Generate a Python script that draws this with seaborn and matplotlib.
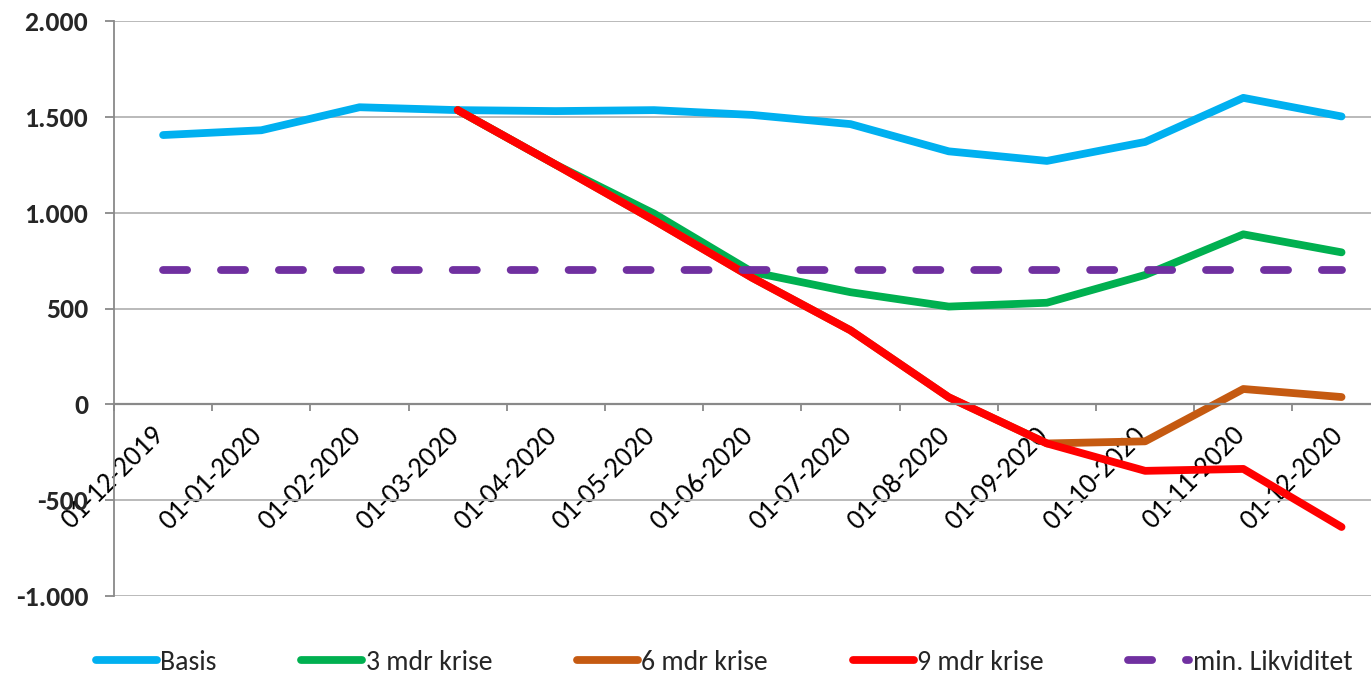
import seaborn as sns
import matplotlib.pyplot as plt
import matplotlib.transforms as mtransforms
import pandas as pd
import numpy as np
from matplotlib.ticker import FuncFormatter, FixedLocator

# data
dates = ["01-12-2019", "01-01-2020", "01-02-2020", "01-03-2020", "01-04-2020",
         "01-05-2020", "01-06-2020", "01-07-2020", "01-08-2020", "01-09-2020",
         "01-10-2020", "01-11-2020", "01-12-2020"]
basis = [1405, 1430, 1550, 1535, 1530, 1535, 1510, 1462, 1320, 1270, 1369, 1599, 1502]
krise_3 = [None, None, None, 1535, 1250, 995, 690, 585, 510, 530, 675, 887, 793]
krise_6 = [None, None, None, 1535, 1250, 960, 660, 386, 37, -204, -193, 80, 38]
krise_9 = [None, None, None, 1535, 1250, 960, 660, 386, 37, -204, -347, -337, -640]
min_likv = [700] * 13

names = ["Basis", "3 mdr krise", "6 mdr krise", "9 mdr krise", "min. Likviditet"]
colors = ["#00B0F0", "#00B050", "#C55A11", "#FF0000", "#7030A0"]

sns.set_theme(style="white")
plt.rcParams['font.family'] = ['Carlito', 'Lato', 'DejaVu Sans']

df = pd.DataFrame({"pos": np.arange(len(dates)), "Basis": basis, "3 mdr krise": krise_3,
                   "6 mdr krise": krise_6, "9 mdr krise": krise_9, "min. Likviditet": min_likv})

fig = plt.figure(figsize=(13.71, 6.73), dpi=100)
ax = fig.add_axes([114/1371, 1 - 596/673, 1 - 114/1371, (596 - 21)/673])

lw = 5.6
for name, col in zip(names, colors):
    d = df[["pos", name]].dropna()
    if name == "min. Likviditet":
        sns.lineplot(data=d, x="pos", y=name, color=col, lw=lw, ax=ax, label=name,
                     dashes=False, dash_capstyle="round")
        ax.lines[-1].set_dashes((3.1, 4.35))
    else:
        sns.lineplot(data=d, x="pos", y=name, color=col, lw=lw, ax=ax, label=name,
                     solid_capstyle="round")

ax.set_xlim(-0.5, 12.3)
ax.set_ylim(-1000, 2000)
ax.set_yticks(np.arange(-1000, 2001, 500))
ax.yaxis.set_major_formatter(FuncFormatter(lambda v, p: f"{v:,.0f}".replace(",", ".")))
ax.grid(axis="y", color="#b4b4b4", lw=1.3)
ax.grid(axis="x", visible=False)
ax.set_axisbelow(True)

for s in ["top", "right"]:
    ax.spines[s].set_visible(False)
ax.spines["left"].set_color("#898989")
ax.spines["left"].set_linewidth(1.3)
ax.spines["bottom"].set_position(("data", 0))
ax.spines["bottom"].set_color("#898989")
ax.spines["bottom"].set_linewidth(1.6)

ax.set_xticks(np.arange(len(dates)))
ax.set_xticklabels(dates, rotation=45, ha="right", va="top")
ax.xaxis.set_minor_locator(FixedLocator(np.arange(-0.5, 12.6, 1)))
ax.tick_params(axis="x", which="major", length=0, pad=13, labelsize=20.5, labelcolor="black")
ax.tick_params(axis="x", which="minor", length=5, width=1.3, color="#898989", direction="out", bottom=True)
ax.tick_params(axis="y", length=6.5, width=1.3, color="#898989", direction="out", left=True,
               pad=12, labelsize=20)
shift = mtransforms.ScaledTranslation(6/100, 0, fig.dpi_scale_trans)
for t in ax.get_xticklabels():
    t.set_transform(t.get_transform() + shift)
for t in ax.get_yticklabels():
    t.set_fontweight("heavy")
ax.set_xlabel("")
ax.set_ylabel("")

ax.get_legend().remove()
handles = ax.get_lines()[:5]
fig.legend(handles, names, loc="center", bbox_to_anchor=(0.528, 1 - 662/673), ncol=5,
           frameon=False, fontsize=20, handlelength=2.2, handletextpad=0.12,
           columnspacing=3.05, borderpad=0, borderaxespad=0)

fig.savefig("out.png", dpi=100)
